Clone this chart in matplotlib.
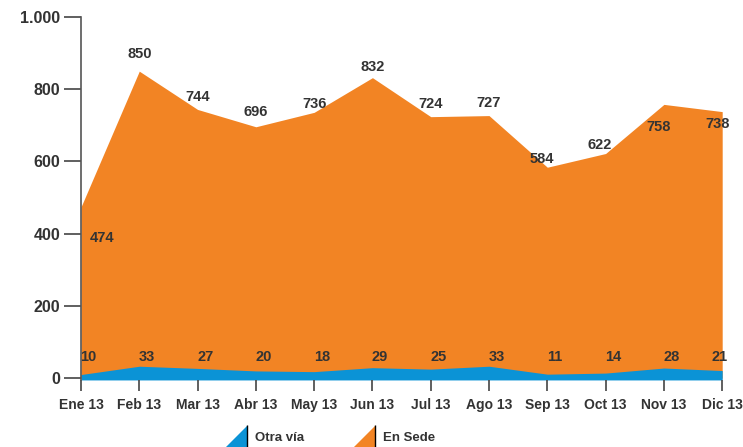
import matplotlib.pyplot as plt
from matplotlib.lines import Line2D
from matplotlib.ticker import FuncFormatter

meses = ['Ene 13', 'Feb 13', 'Mar 13', 'Abr 13', 'May 13', 'Jun 13',
         'Jul 13', 'Ago 13', 'Sep 13', 'Oct 13', 'Nov 13', 'Dic 13']
en_sede = [474, 850, 744, 696, 736, 832, 724, 727, 584, 622, 758, 738]
otra_via = [10, 33, 27, 20, 18, 29, 25, 33, 11, 14, 28, 21]

naranja = '#F28424'
azul = '#0B93D6'
gris = '#333333'

plt.rcParams['font.family'] = ['Liberation Sans', 'DejaVu Sans']
plt.rcParams['font.weight'] = 'bold'

fig = plt.figure(figsize=(7.43, 4.47), dpi=100)
ax = fig.add_axes([0.109, 0.150, 0.863, 0.812])

x = list(range(len(meses)))
ax.fill_between(x, 0, en_sede, color=naranja, linewidth=0)
ax.fill_between(x, -5, otra_via, color=azul, linewidth=0)

# etiquetas de En Sede (desplazamiento en puntos)
desp = [(15, -22), (0, 12), (0, 9), (0, 11), (0, 6), (0, 8),
        (0, 9), (0, 9), (-4, 6), (-4, 6), (-4, -16), (-3, -9)]
for i, v in enumerate(en_sede):
    ax.annotate(str(v), (i, v), xytext=desp[i], textcoords='offset points',
                ha='center', va='center', fontsize=10.5, color=gris, fontweight='bold')

# etiquetas de Otra vía en una fila fija
for i, v in enumerate(otra_via):
    xi = i + 0.13 if i < len(x) - 1 else i - 0.05
    ax.text(xi, 58, str(v), ha='center', va='center', fontsize=10.5,
            color=gris, fontweight='bold')

ax.set_xlim(0, 11)
ax.set_ylim(-5, 1000)
ax.set_yticks([0, 200, 400, 600, 800, 1000])
ax.yaxis.set_major_formatter(FuncFormatter(lambda v, p: f'{int(v):,}'.replace(',', '.')))
ax.set_xticks(x)
ax.set_xticklabels(meses)

for s in ['top', 'right', 'bottom']:
    ax.spines[s].set_visible(False)
ax.spines['left'].set_color('#555555')
ax.spines['left'].set_linewidth(1.2)

ax.tick_params(axis='y', direction='out', length=12, width=1.2, color='#444444',
               labelsize=11.5, labelcolor=gris, pad=3)
ax.tick_params(axis='x', direction='out', length=8, width=1.2, color='#444444',
               labelsize=10, labelcolor=gris, pad=5)
for lab in ax.get_xticklabels() + ax.get_yticklabels():
    lab.set_fontweight('bold')

# leyenda con triángulos
tri = [(-1, -1), (1, -1), (1, 1)]
handles = [
    Line2D([], [], marker=tri, color=azul, markeredgecolor='black',
           markersize=17, linestyle='none', label='Otra vía'),
    Line2D([], [], marker=tri, color=naranja, markeredgecolor='black',
           markersize=17, linestyle='none', label='En Sede'),
]
fig.legend(handles=handles, loc='center', bbox_to_anchor=(0.442, 0.02), ncol=2,
           frameon=False, prop={'size': 9.5, 'weight': 'bold'}, columnspacing=3.5,
           handletextpad=0.5, labelcolor=gris)

fig.savefig('out.png', dpi=100)
